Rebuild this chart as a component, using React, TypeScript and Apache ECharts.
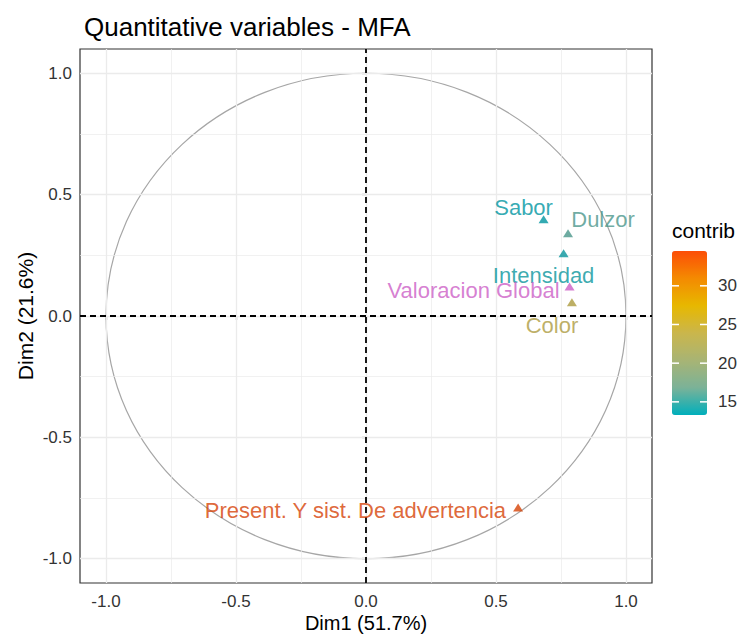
import React, { useEffect, useRef } from "react";
import * as echarts from "echarts";

// ---- data ----
const variableNames = ["Sabor", "Dulzor", "Intensidad", "Color", "Present. Y sist. De advertencia"];
const dim1 = [0.683, 0.777, 0.76, 0.792, 0.585];
const dim2 = [0.399, 0.341, 0.259, 0.057, -0.789];
const contrib = [13.3, 15.8, 13.6, 24.0, 34.5];
const supNames = ["Valoracion Global"];
const supDim1 = [0.783];
const supDim2 = [0.122];
const axisTicks = [-1, -0.5, 0, 0.5, 1];
const minorTicks = [-0.75, -0.25, 0.25, 0.75];
const legendTicks = [15, 20, 25, 30];
const contribMin = 13.3;
const contribMax = 34.5;

// ---- label placement (repel-like offsets, in px) ----
const labelPlacement: Record<string, { offset: [number, number]; align: string }> = {
  Sabor: { offset: [-20, -12], align: "center" },
  Dulzor: { offset: [35, -14], align: "center" },
  Intensidad: { offset: [-20, 22], align: "center" },
  Color: { offset: [-20, 23], align: "center" },
  "Present. Y sist. De advertencia": { offset: [-12, 3], align: "right" },
  "Valoracion Global": { offset: [-10, 4], align: "right" },
};

const FONT = "Liberation Sans, Arial, sans-serif";
const legendGradient = ["#00AFBB", "#7BB298", "#A8B474", "#CAB64C", "#E7B800", "#F48A01", "#FC4E07"];
const markGradient = ["#00959F", "#699781", "#8F9963", "#AC9B41", "#C49C00", "#CF7501", "#D64206"];
const supColor = "#CC5EC6";

// layout
const GRID = { left: 80, top: 49, width: 572, height: 534 };
const VM = { left: 672, top: 251, width: 35, height: 164 };

export default function App() {
  const ref = useRef<HTMLDivElement>(null);
  useEffect(() => {
    if (!ref.current) return;
    const chart = echarts.init(ref.current, undefined, { renderer: "svg" });

    const gridLine = (v: number, major: boolean, axis: "xAxis" | "yAxis") => ({
      [axis]: v,
      lineStyle: { color: "#EBEBEB", width: major ? 1.3 : 0.7, type: "solid" },
    });

    const activeData = variableNames.map((n, i) => ({
      name: n,
      value: [dim1[i], dim2[i], contrib[i]],
      label: {
        offset: labelPlacement[n].offset,
        align: labelPlacement[n].align,
      },
    }));
    const supData = supNames.map((n, i) => ({
      name: n,
      value: [supDim1[i], supDim2[i]],
      label: {
        offset: labelPlacement[n].offset,
        align: labelPlacement[n].align,
      },
    }));

    const vmY = (v: number) => VM.top + ((contribMax - v) / (contribMax - contribMin)) * VM.height;

    const legendGraphics: any[] = [
      {
        type: "text",
        left: VM.left,
        top: 220,
        style: { text: "contrib", fontSize: 21, fontFamily: FONT, fill: "#000" },
      },
    ];
    legendTicks.forEach((t) => {
      const y = vmY(t);
      legendGraphics.push({
        type: "line",
        shape: { x1: VM.left, y1: y, x2: VM.left + 7, y2: y },
        style: { stroke: "#fff", lineWidth: 1.5 },
        z: 100,
      });
      legendGraphics.push({
        type: "line",
        shape: { x1: VM.left + VM.width - 7, y1: y, x2: VM.left + VM.width, y2: y },
        style: { stroke: "#fff", lineWidth: 1.5 },
        z: 100,
      });
      legendGraphics.push({
        type: "text",
        x: VM.left + VM.width + 11,
        y: y,
        style: {
          text: String(t),
          fontSize: 17,
          fontFamily: FONT,
          fill: "#333",
          verticalAlign: "middle",
          align: "left",
        },
      });
    });

    const axisCommon = {
      type: "value",
      min: -1.1,
      max: 1.1,
      splitLine: { show: false },
      axisLine: { show: false },
      axisTick: {
        show: true,
        length: 4,
        customValues: axisTicks,
        lineStyle: { color: "#333", width: 1.2 },
      },
      axisLabel: {
        customValues: axisTicks,
        formatter: (v: number) => v.toFixed(1),
        fontSize: 17,
        fontFamily: FONT,
        color: "#333",
      },
      nameLocation: "middle",
      nameMoveOverlap: false,
      nameTextStyle: { fontSize: 21, fontFamily: FONT, color: "#000" },
    };

    const labelCommon = {
      show: true,
      position: "inside",
      formatter: (p: any) => p.name,
      fontSize: 22,
      fontFamily: FONT,
      textBorderWidth: 0,
      verticalAlign: "middle",
    };

    chart.setOption({
      animation: false,
      backgroundColor: "#fff",
      title: {
        text: "Quantitative variables - MFA",
        left: 79,
        top: 9,
        textStyle: { fontSize: 26, fontWeight: "normal", fontFamily: FONT, color: "#000" },
      },
      grid: {
        ...GRID,
        outerBoundsMode: "none",
        containLabel: false,
        show: true,
        borderColor: "#333",
        borderWidth: 1.2,
        backgroundColor: "#fff",
      },
      xAxis: {
        ...axisCommon,
        axisLabel: { ...axisCommon.axisLabel, margin: 10 },
        name: "Dim1 (51.7%)",
        nameGap: 30,
        nameTextStyle: { fontSize: 20, fontFamily: FONT, color: "#000", lineHeight: 20 },
      },
      yAxis: {
        ...axisCommon,
        axisLabel: { ...axisCommon.axisLabel, margin: 8 },
        name: "Dim2 (21.6%)",
        nameGap: 44,
        nameRotate: 90,
      },
      visualMap: [
        {
          type: "continuous",
          dimension: 2,
          seriesIndex: 0,
          min: contribMin,
          max: contribMax,
          inRange: { color: legendGradient },
          calculable: false,
          showLabel: false,
          hoverLink: false,
          itemWidth: VM.width,
          itemHeight: VM.height,
          left: VM.left,
          top: VM.top,
          padding: 0,
          text: ["", ""],
        },
        {
          type: "continuous",
          show: false,
          dimension: 2,
          seriesIndex: 3,
          min: contribMin,
          max: contribMax,
          inRange: { color: markGradient },
        },
      ],
      graphic: legendGraphics,
      series: [
        {
          type: "scatter",
          data: [],
          z: 1,
          silent: true,
          markLine: {
            silent: true,
            symbol: ["none", "none"],
            label: { show: false },
            animation: false,
            data: [
              ...minorTicks.map((v) => gridLine(v, false, "xAxis")),
              ...minorTicks.map((v) => gridLine(v, false, "yAxis")),
              ...axisTicks.map((v) => gridLine(v, true, "xAxis")),
              ...axisTicks.map((v) => gridLine(v, true, "yAxis")),
            ],
          },
        },
        {
          type: "custom",
          z: 2,
          silent: true,
          data: [[0, 0]],
          renderItem: (params: any, api: any) => {
            const c = api.coord([0, 0]);
            const s = api.size([1, 1]);
            return {
              type: "ellipse",
              shape: { cx: c[0], cy: c[1], rx: s[0], ry: s[1] },
              style: { fill: "none", stroke: "#A6A6A6", lineWidth: 1.2 },
            };
          },
        },
        {
          type: "scatter",
          data: [],
          z: 3,
          silent: true,
          markLine: {
            silent: true,
            symbol: ["none", "none"],
            label: { show: false },
            animation: false,
            lineStyle: { color: "#000", width: 1.8, type: [6, 4] },
            data: [{ xAxis: 0 }, { yAxis: 0 }],
          },
        },
        {
          type: "scatter",
          z: 5,
          symbol: "triangle",
          symbolSize: [10, 8],
          data: activeData,
          label: { ...labelCommon, color: "inherit" },
        },
        {
          type: "scatter",
          z: 5,
          symbol: "triangle",
          symbolSize: [10, 8],
          itemStyle: { color: supColor },
          data: supData,
          label: { ...labelCommon, color: supColor },
        },
      ],
    });
    return () => chart.dispose();
  }, []);
  return (
    <div
      ref={ref}
      style={{ position: "fixed", left: 0, top: 0, width: 739, height: 634, background: "#fff" }}
    />
  );
}
